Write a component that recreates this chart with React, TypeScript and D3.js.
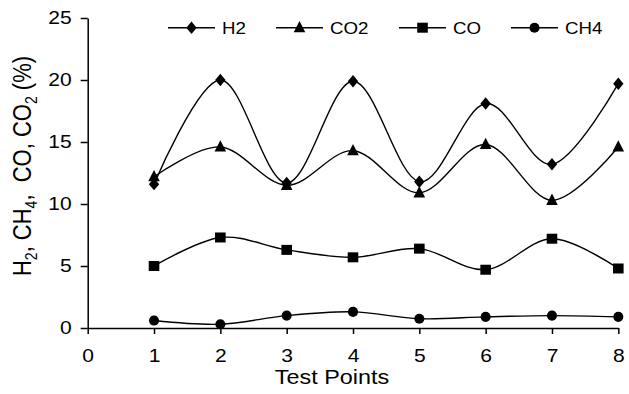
import { useEffect, useRef } from "react";
import * as d3 from "d3";

const testPoints = [1, 2, 3, 4, 5, 6, 7, 8];
const h2  = [11.6, 20.0, 11.7, 19.9, 11.8, 18.1, 13.2, 19.7];
const co2 = [12.2, 14.6, 11.5, 14.3, 10.9, 14.8, 10.3, 14.6];
const co  = [5.0, 7.3, 6.3, 5.7, 6.4, 4.7, 7.2, 4.8];
const ch4 = [0.6, 0.3, 1.0, 1.3, 0.75, 0.9, 1.0, 0.9];
const xTicks = [0, 1, 2, 3, 4, 5, 6, 7, 8];
const yTicks = [0, 5, 10, 15, 20, 25];
const seriesNames = ["H2", "CO2", "CO", "CH4"];
const markerTypes = ["diamond", "triangle", "square", "circle"];

const FONT = "'Liberation Sans', Arial, sans-serif";
const SX = 1.17; // text in the picture is a little wide

// marker path centred at 0,0
const markerPath = (t: string) => {
  if (t === "diamond") return "M0,-6.2L5.2,0L0,6.2L-5.2,0Z";
  if (t === "triangle") return "M0,-6.8L5.8,4.6L-5.8,4.6Z";
  if (t === "square") return "M-5.3,-5L5.3,-5L5.3,5L-5.3,5Z";
  return d3.symbol(d3.symbolCircle, 80)()!;
};

export default function App() {
  const ref = useRef<SVGSVGElement>(null);

  useEffect(() => {
    if (!ref.current) return;
    const W = 629, H = 394;
    const svg = d3.select(ref.current).attr("width", W).attr("height", H);
    svg.selectAll("*").remove();

    const x = d3.scaleLinear().domain([0, 8]).range([87.7, 618.3]);
    const y = d3.scaleLinear().domain([0, 25]).range([328, 18]);

    const all = [h2, co2, co, ch4];

    // Y axis
    svg.append("g")
      .attr("transform", `translate(${x(0)},0)`)
      .call(d3.axisLeft(y).tickValues(yTicks).tickSize(7).tickPadding(7).tickSizeOuter(0))
      .call(g => g.select(".domain").attr("stroke", "#000").attr("stroke-width", 1.5))
      .call(g => g.selectAll("line").attr("stroke", "#000").attr("stroke-width", 1.5))
      .call(g => g.selectAll("text")
        .attr("font-size", 18).attr("font-family", FONT).attr("fill", "#000")
        .attr("x", -16 / SX).attr("transform", `scale(${SX},1)`));

    // X axis
    svg.append("g")
      .attr("transform", `translate(0,${y(0)})`)
      .call(d3.axisBottom(x).tickValues(xTicks).tickSize(6).tickPadding(15).tickSizeOuter(0))
      .call(g => g.select(".domain").attr("stroke", "#000").attr("stroke-width", 1.5))
      .call(g => g.selectAll("line").attr("stroke", "#000").attr("stroke-width", 1.5))
      .call(g => g.selectAll("text")
        .attr("font-size", 18).attr("font-family", FONT).attr("fill", "#000")
        .attr("transform", `scale(${SX},1)`));

    // Lines
    const line = d3.line<number>()
      .x((_, i) => x(testPoints[i]))
      .y(d => y(d))
      .curve(d3.curveCatmullRom.alpha(0));

    all.forEach((vals, si) => {
      svg.append("path")
        .attr("d", line(vals)!)
        .attr("fill", "none")
        .attr("stroke", "#000")
        .attr("stroke-width", 1.4);
      svg.selectAll(null)
        .data(vals)
        .enter().append("path")
        .attr("d", markerPath(markerTypes[si]))
        .attr("transform", (d, i) => `translate(${x(testPoints[i])},${y(d)})`)
        .attr("fill", "#000");
    });

    // Legend
    const legendX = [168, 276, 399, 511];
    const legendY = 27.7;
    seriesNames.forEach((name, i) => {
      const lx = legendX[i];
      svg.append("line")
        .attr("x1", lx).attr("x2", lx + 47)
        .attr("y1", legendY).attr("y2", legendY)
        .attr("stroke", "#000").attr("stroke-width", 1.4);
      svg.append("path")
        .attr("d", markerPath(markerTypes[i]))
        .attr("transform", `translate(${lx + 23.5},${legendY})`)
        .attr("fill", "#000");
      svg.append("text")
        .attr("transform", `translate(${lx + 54},${legendY + 6}) scale(${SX},1)`)
        .attr("font-size", 16).attr("font-family", FONT)
        .text(name);
    });

    // X title
    svg.append("text")
      .attr("transform", `translate(332,384) scale(${SX},1)`)
      .attr("text-anchor", "middle")
      .attr("font-size", 20).attr("font-family", FONT)
      .text("Test Points");

    // Y title with subscripts
    const yt = svg.append("text")
      .attr("transform", `translate(31,166) rotate(-90) scale(1,${SX})`)
      .attr("text-anchor", "middle")
      .attr("font-size", 22).attr("font-family", FONT);
    const parts: [string, boolean][] = [
      ["H", false], ["2", true], [", CH", false], ["4", true],
      [",  CO, CO", false], ["2", true], [" (%)", false],
    ];
    parts.forEach(([t, sub], i) => {
      const ts = yt.append("tspan").text(t).attr("xml:space", "preserve");
      if (sub) ts.attr("font-size", 14).attr("dy", 5);
      else if (i > 0 && parts[i - 1][1]) ts.attr("dy", -5);
    });
  }, []);

  return (
    <svg ref={ref} style={{ position: "absolute", left: 0, top: 0, background: "#fff" }} />
  );
}
